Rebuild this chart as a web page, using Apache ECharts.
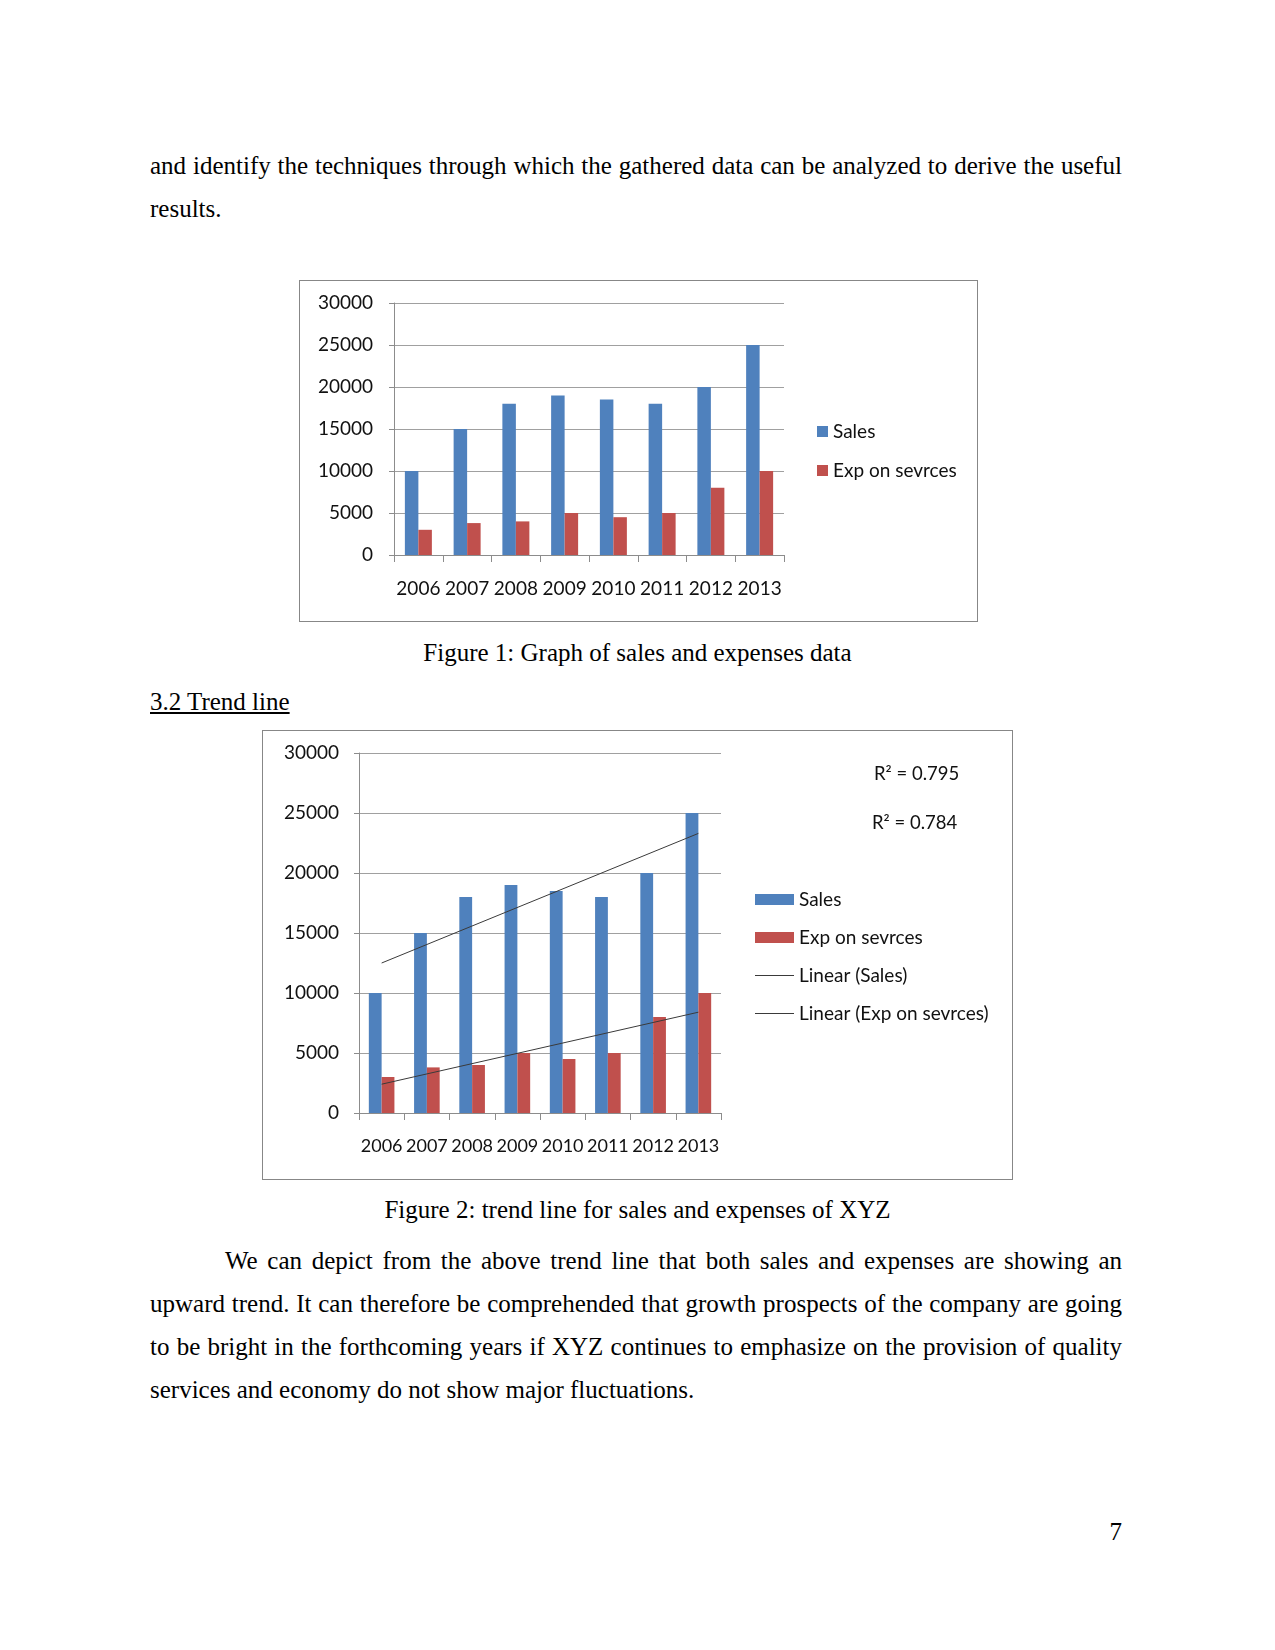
<!DOCTYPE html>
<html>
<head>
<meta charset="utf-8">
<script src="https://cdn.jsdelivr.net/npm/echarts@6/dist/echarts.min.js"></script>
<style>
  html, body { margin: 0; padding: 0; background: #fff; }
  body { width: 1275px; height: 1650px; position: relative; font-family: "Liberation Serif", "Times New Roman", serif; font-size: 25px; color: #000; }
  .line { position: absolute; left: 150px; width: 972px; height: 43px; line-height: 43px; white-space: nowrap; }
  .just { text-align: justify; text-align-last: justify; white-space: normal; }
  .center { left: 0; width: 1275px; text-align: center; }
  .box { position: absolute; border: 1px solid #878787; box-sizing: border-box; }
  .chart { position: absolute; left: 0; top: 0; }
</style>
</head>
<body>

<div class="line just" style="top:144px">and identify the techniques through which the gathered data can be analyzed to derive the useful</div>
<div class="line" style="top:187px">results.</div>

<div class="box" style="left:299px; top:280px; width:679px; height:342px">
  <div id="chart1" class="chart" style="width:677px; height:340px"></div>
</div>
<div class="line center" style="top:631px">Figure 1: Graph of sales and expenses data</div>

<div class="line" style="top:680px"><u>3.2 Trend line</u></div>

<div class="box" style="left:262px; top:730px; width:751px; height:450px">
  <div id="chart2" class="chart" style="width:749px; height:448px"></div>
</div>
<div class="line center" style="top:1188px">Figure 2: trend line for sales and expenses of XYZ</div>

<div class="line just" style="top:1239px; text-indent:75px">We can depict from the above trend line that both sales and expenses are showing an</div>
<div class="line just" style="top:1282px">upward trend. It can therefore be comprehended that growth prospects of the company are going</div>
<div class="line just" style="top:1325px">to be bright in the forthcoming years if XYZ continues to emphasize on the provision of quality</div>
<div class="line" style="top:1368px">services and economy do not show major fluctuations.</div>

<div class="line" style="top:1510px; text-align:right">7</div>

<script>
// data
const years = ['2006', '2007', '2008', '2009', '2010', '2011', '2012', '2013'];
const sales = [10000, 15000, 18000, 19000, 18500, 18000, 20000, 25000];
const expenses = [3000, 3800, 4000, 5000, 4500, 5000, 8000, 10000];
// trend line end points (2006 and 2013) as drawn
const salesTrend = [12500, 23300];
const expTrend = [2400, 8400];
const r2Labels = ['R\u00b2 = 0.795', 'R\u00b2 = 0.784'];

const BLUE = '#4f81bd';
const RED = '#c0504d';
const labelFont = 'Lato';

function trendData(ends) {
  const d = years.map(() => null);
  d[0] = ends[0];
  d[d.length - 1] = ends[1];
  return d;
}

function axes(labelMargin, xSize) {
  return {
    xAxis: {
      type: 'category',
      data: years,
      axisLine: { lineStyle: { color: '#8c8c8c' } },
      axisTick: { show: true, length: 7, lineStyle: { color: '#8c8c8c' } },
      axisLabel: { color: '#111', fontFamily: labelFont, fontSize: xSize, margin: 24, interval: 0 }
    },
    yAxis: {
      type: 'value',
      min: 0,
      max: 30000,
      interval: 5000,
      axisLine: { show: true, lineStyle: { color: '#8c8c8c' } },
      axisTick: { show: true, length: 5, lineStyle: { color: '#8c8c8c' } },
      splitLine: { lineStyle: { color: '#a0a0a0' } },
      axisLabel: { color: '#111', fontFamily: labelFont, fontSize: 19, margin: labelMargin,
        formatter: v => String(v) }
    }
  };
}

const chart1 = echarts.init(document.getElementById('chart1'));
chart1.setOption(Object.assign({
  animation: false,
  grid: { left: 94, top: 22, width: 390, height: 252 },
  legend: {
    orient: 'vertical',
    left: 512,
    top: 136,
    itemWidth: 11,
    itemHeight: 11,
    itemGap: 20,
    icon: 'rect',
    textStyle: { color: '#111', fontFamily: labelFont, fontSize: 19 }
  },
  series: [
    { name: 'Sales', type: 'bar', data: sales, barWidth: 13.5, barGap: '0%', itemStyle: { color: BLUE } },
    { name: 'Exp on sevrces', type: 'bar', data: expenses, barWidth: 13.5, barGap: '0%', itemStyle: { color: RED } }
  ]
}, axes(21, 19)));

const chart2 = echarts.init(document.getElementById('chart2'));
chart2.setOption(Object.assign({
  animation: false,
  grid: { left: 96, top: 22, width: 362, height: 360 },
  legend: {
    orient: 'vertical',
    left: 487,
    top: 154,
    itemWidth: 39,
    itemHeight: 11,
    itemGap: 19,
    textStyle: { color: '#111', fontFamily: labelFont, fontSize: 19 },
    data: [
      { name: 'Sales', icon: 'rect' },
      { name: 'Exp on sevrces', icon: 'rect' },
      { name: 'Linear (Sales)', icon: 'path://M0 0H40V1H0Z' },
      { name: 'Linear (Exp on sevrces)', icon: 'path://M0 0H40V1H0Z' }
    ]
  },
  graphic: [
    { type: 'text', left: 611, top: 34, style: { text: r2Labels[0], fill: '#111', font: '18.5px Lato' } },
    { type: 'text', left: 609, top: 83, style: { text: r2Labels[1], fill: '#111', font: '18.5px Lato' } }
  ],
  series: [
    { name: 'Sales', type: 'bar', data: sales, barWidth: 12.8, barGap: '0%', itemStyle: { color: BLUE } },
    { name: 'Exp on sevrces', type: 'bar', data: expenses, barWidth: 12.8, barGap: '0%', itemStyle: { color: RED } },
    { name: 'Linear (Sales)', type: 'line', data: trendData(salesTrend), connectNulls: true, symbol: 'none',
      itemStyle: { color: '#3a3a3a' }, lineStyle: { color: '#3a3a3a', width: 1 } },
    { name: 'Linear (Exp on sevrces)', type: 'line', data: trendData(expTrend), connectNulls: true, symbol: 'none',
      itemStyle: { color: '#3a3a3a' }, lineStyle: { color: '#3a3a3a', width: 1 } }
  ]
}, axes(20, 18)));
</script>
</body>
</html>
